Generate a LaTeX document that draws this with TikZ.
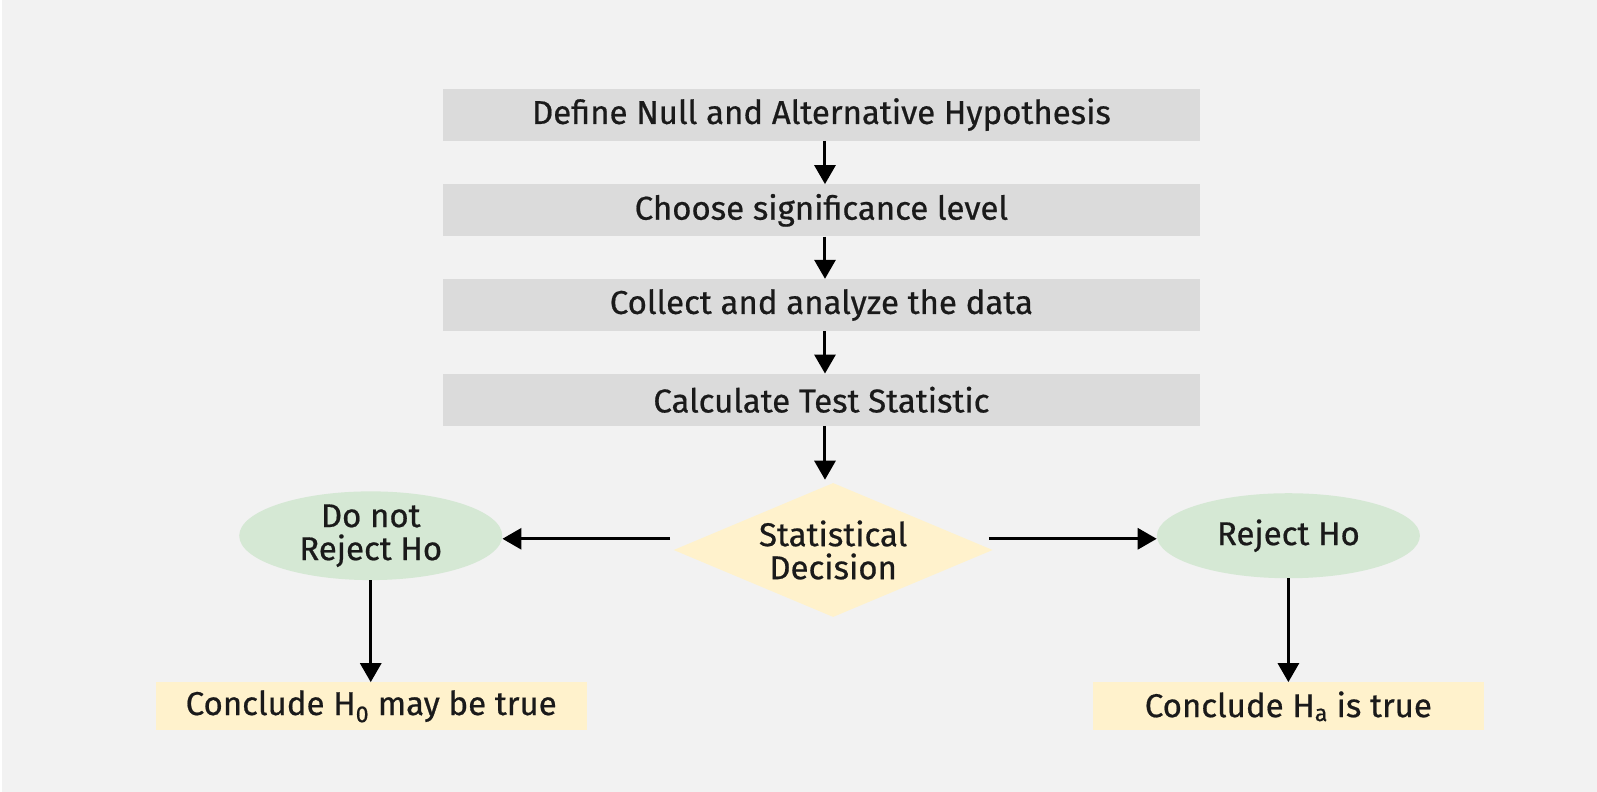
\documentclass[tikz,border=0pt]{standalone}
\usepackage{fontspec}
\setmainfont{Fira Sans}[FakeBold=0.6]
\usetikzlibrary{shapes.geometric,arrows.meta}
\definecolor{bg}{HTML}{F2F2F2}
\definecolor{graybox}{HTML}{DBDBDB}
\definecolor{greenell}{HTML}{D5E8D4}
\definecolor{yellowbox}{HTML}{FFF2CC}
\definecolor{txt}{HTML}{1A1A1A}
\newcommand{\mainsize}{\fontsize{33}{36}\selectfont}
\tikzset{
  stepbox/.style={rectangle, fill=graybox, minimum width=757pt, minimum height=52pt, inner sep=0pt, text=txt, font=\mainsize},
  decisionshape/.style={diamond, fill=yellowbox, minimum width=319pt, minimum height=134pt, inner sep=0pt, aspect=2.37, text=txt, align=center, font=\fontsize{33}{33}\selectfont},
  outcome/.style={ellipse, fill=greenell, minimum width=263pt, minimum height=85pt, inner sep=0pt, text=txt, align=center, font=\fontsize{33}{33}\selectfont},
  conclbox/.style={rectangle, fill=yellowbox, minimum height=48pt, inner sep=0pt, text=txt, font=\mainsize},
  flowarrow/.style={line width=3pt, -{Triangle[length=19pt,width=21pt]}, black}
}
\begin{document}
\begin{tikzpicture}[x=1.0185pt,y=-1.0185pt]
\fill[bg] (0,0) rectangle (1568,777.6);
\fill[white] (0,0) rectangle (1.5,777.6);
\useasboundingbox (0,0) rectangle (1568,777.6);
\node[stepbox] (s1) at (806.5,112.5) {Define Null and Alternative Hypothesis};
\node[stepbox] (s2) at (806.5,206.5) {Choose significance level};
\node[stepbox] (s3) at (806.5,299.5) {Collect and analyze the data};
\node[stepbox] (s4) at (806.5,392.5) {Calculate Test Statistic};
\node[decisionshape] (dec) at (818,540) {Statistical\\Decision};
\node[outcome] (no) at (364,526) {Do not\\Reject Ho};
\node[outcome] (yes) at (1265,526) {Reject Ho};
\node[conclbox, minimum width=431pt] (c0) at (364.5,693.5) {Conclude H\textsubscript{0} may be true};
\node[conclbox, minimum width=391pt] (ca) at (1265,693.5) {Conclude H\textsubscript{a} is true};
\coordinate (dl) at (658,529);
\coordinate (dr) at (971,529);
\draw[flowarrow] (s1.south -| 810,0) -- (s2.north -| 810,0);
\draw[flowarrow] (s2.south -| 810,0) -- (s3.north -| 810,0);
\draw[flowarrow] (s3.south -| 810,0) -- (s4.north -| 810,0);
\draw[flowarrow] (s4.south -| 810,0) -- (810,471);
\draw[flowarrow] (dl) -- (no.east |- dl);
\draw[flowarrow] (dr) -- (yes.west |- dr);
\draw[flowarrow] (no.south) -- (c0.north -| no.south);
\draw[flowarrow] (yes.south) -- (ca.north -| yes.south);
\end{tikzpicture}
\end{document}
